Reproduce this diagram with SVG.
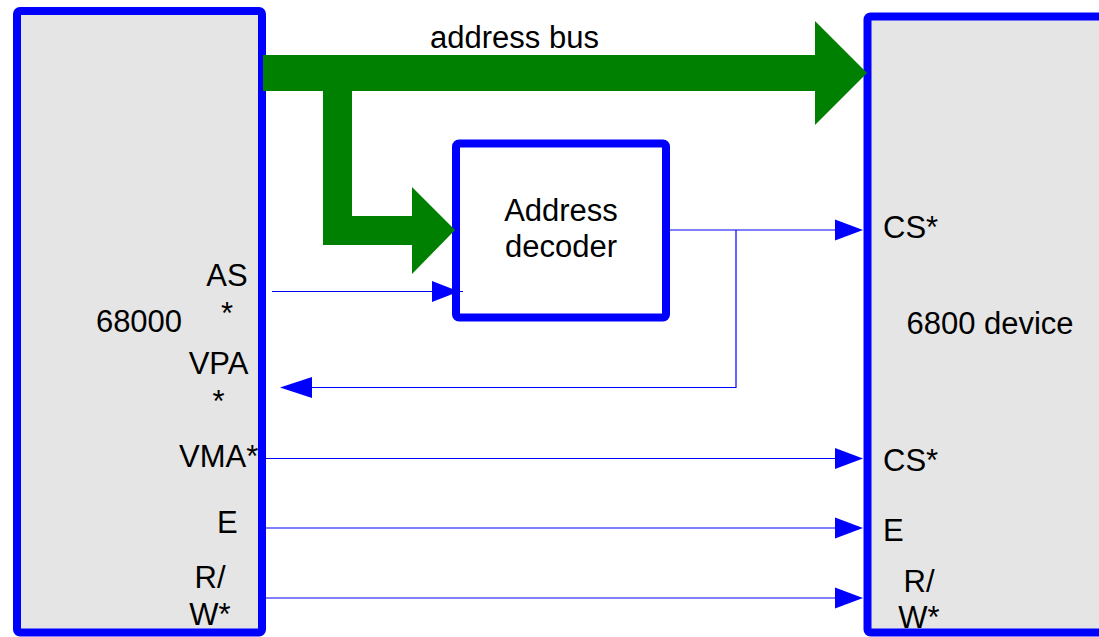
<svg xmlns="http://www.w3.org/2000/svg" width="1099" height="637" viewBox="0 0 1099 637">
  <style>
    .box { stroke: #0000ff; stroke-width: 8; }
    .chip { fill: #e5e5e5; }
    .dec { fill: #ffffff; }
    text { font-family: "Liberation Sans", Arial, sans-serif; font-size: 31px; fill: #000000; }
    .mid { text-anchor: middle; }
    .wire { stroke: #0000ff; stroke-width: 1.2; fill: none; }
    .wire2 { stroke: #0000ee; stroke-width: 1.1; fill: none; }
    .head { fill: #0000ff; }
    .bus { fill: #008000; }
  </style>
  <rect width="1099" height="637" fill="#ffffff"/>
  <g id="cpu68000">
    <rect class="box chip" x="17" y="11" width="245" height="621.5" rx="3"/>
    <text class="mid" x="139" y="332">68000</text>
    <text class="mid" x="227" y="286">AS</text>
    <text class="mid" x="227" y="324">*</text>
    <text class="mid" x="218.5" y="374">VPA</text>
    <text class="mid" x="218.5" y="412">*</text>
    <text x="179" y="467">VMA*</text>
    <text x="217" y="533">E</text>
    <text class="mid" x="210" y="588">R/</text>
    <text class="mid" x="210" y="625">W*</text>
  </g>
  <g id="device6800">
    <rect class="box chip" x="867.5" y="16.5" width="300" height="616" rx="3"/>
    <text class="mid" x="990" y="334">6800 device</text>
    <text x="883" y="238">CS*</text>
    <text x="883" y="471">CS*</text>
    <text x="883" y="541">E</text>
    <text class="mid" x="919" y="592">R/</text>
    <text class="mid" x="919" y="628">W*</text>
  </g>
  <g id="decoder">
    <rect class="box dec" x="456" y="143.5" width="210" height="174" rx="3"/>
    <text class="mid" x="561" y="221">Address</text>
    <text class="mid" x="561" y="257">decoder</text>
  </g>
  <g id="connectors">
    <g id="address-bus">
      <polygon class="bus" points="263,55 815,55 815,21 867,73 815,125 815,91 352,91 352,216 412,216 412,187 455,230 412,274 412,245 323,245 323,91 263,91"/>
      <text x="430" y="48">address bus</text>
    </g>
    <g id="cs-line">
      <polyline class="wire" points="670,230 836,230"/>
      <polygon class="head" points="863,230 835,219.5 835,240.5"/>
    </g>
    <g id="vpa-line">
      <polyline class="wire" points="736,230 736,387.5 310,387.5"/>
      <polygon class="head" points="280,387.5 312,377 312,398"/>
    </g>
    <g id="as-line">
      <line class="wire2" x1="272" y1="291.5" x2="463" y2="291.5"/>
      <polygon class="head" points="459,291.5 432,281 432,302"/>
    </g>
    <g id="vma-line">
      <line class="wire" x1="266" y1="458.5" x2="836" y2="458.5"/>
      <polygon class="head" points="863,458.5 835,448 835,469"/>
    </g>
    <g id="e-line">
      <line class="wire" x1="266" y1="528" x2="836" y2="528"/>
      <polygon class="head" points="863,528 835,517.5 835,538.5"/>
    </g>
    <g id="rw-line">
      <line class="wire" x1="266" y1="598" x2="836" y2="598"/>
      <polygon class="head" points="863,598 835,587.5 835,608.5"/>
    </g>
  </g>
</svg>
